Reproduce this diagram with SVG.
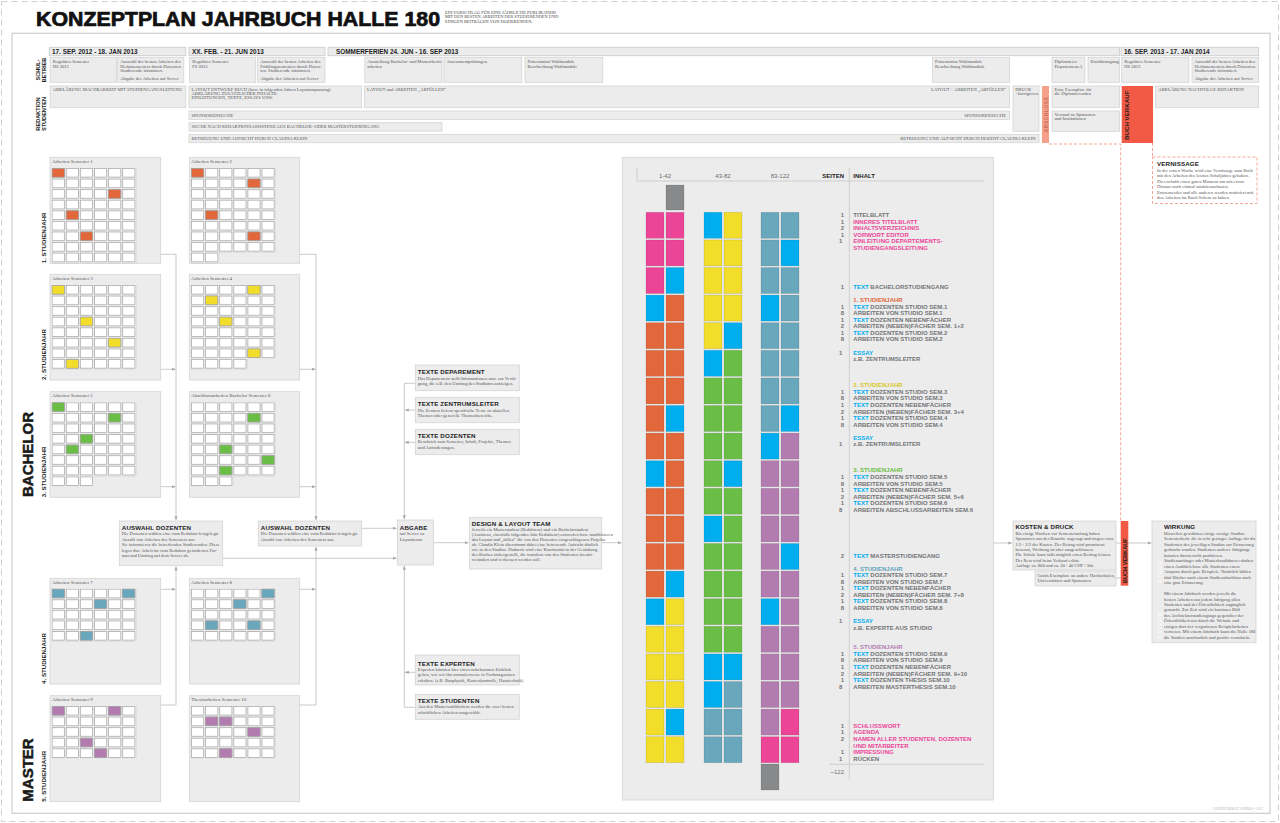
<svg xmlns="http://www.w3.org/2000/svg" width="1280" height="823" viewBox="0 0 1280 823">
<defs>
<style>
.box{fill:#ECECED;stroke:#D4D4D4;stroke-width:0.8}
.bar{fill:#ECECED;stroke:#CACACA;stroke-width:0.8}
.hd{font-family:"Liberation Sans",Arial,sans-serif;font-weight:bold;font-size:6.2px;fill:#1d1d1d;letter-spacing:0.15px}
.dt{font-family:"Liberation Sans",Arial,sans-serif;font-weight:bold;font-size:6.4px;fill:#1d1d1d}
.bd{font-family:"Liberation Serif","Times New Roman",serif;font-size:4.6px;fill:#555}
.st{font-family:"Liberation Serif","Times New Roman",serif;font-size:5px;fill:#555}
.ct{font-family:"Liberation Sans",Arial,sans-serif;font-weight:bold;font-size:6px;fill:#737476}
.nm{font-family:"Liberation Sans",Arial,sans-serif;font-weight:bold;font-size:6px;fill:#737476;text-anchor:end}
.vl{font-family:"Liberation Sans",Arial,sans-serif;font-weight:bold;font-size:6.2px;fill:#1d1d1d}
.big{font-family:"Liberation Sans",Arial,sans-serif;font-weight:bold;font-size:15px;fill:#1a1a1a;stroke:#1a1a1a;stroke-width:0.5}
.cn{fill:none;stroke:#BDBDBD;stroke-width:0.8}
.dash{fill:none;stroke:#F4A595;stroke-width:1;stroke-dasharray:3 2}
.P{fill:#EC4598}.C{fill:#00AEEF}.O{fill:#E2673A}.Y{fill:#F2DD2A}.G{fill:#6BBE45}.T{fill:#68A7BC}.U{fill:#B37CB0}.K{fill:#87898B}
.pc{fill:#EC4598}.cc{fill:#00AEEF}.oc{fill:#E2673A}.yc{fill:#D9C82A}.gc{fill:#6BBE45}.tc{fill:#5FA3B8}.uc{fill:#B37CB0}
.pb rect{stroke:rgba(0,0,0,0.12);stroke-width:0.8}
.cl{stroke:#A3A3A3;stroke-width:0.7}
</style>
<pattern id="cells" width="14.1" height="10.58" patternUnits="userSpaceOnUse"><rect x="0.4" y="0.4" width="12.3" height="8.7" fill="#fff" stroke="#A3A3A3" stroke-width="0.7"/></pattern>
<marker id="ar" viewBox="0 0 6 6" refX="6" refY="3" markerWidth="4" markerHeight="4" orient="auto" markerUnits="userSpaceOnUse"><path d="M0,0.6 L6,3 L0,5.4 z" fill="#A8A8A8"/></marker>
</defs>
<rect width="1280" height="823" fill="#fff"/>
<rect x="1.5" y="1.5" width="1277" height="820" fill="none" stroke="#CFCFCF" stroke-width="1" stroke-dasharray="6 4"/>
<rect x="12" y="33.3" width="1258" height="780" fill="none" stroke="#CDCDCD" stroke-width="1.2"/>

<g id="title">
<text x="36" y="26" font-family="Liberation Sans,Arial,sans-serif" font-weight="bold" font-size="20" fill="#111" stroke="#111" stroke-width="0.7" textLength="404" lengthAdjust="spacingAndGlyphs">KONZEPTPLAN JAHRBUCH HALLE 180</text>
<text class="bd" style="font-size:4.4px;fill:#444"><tspan x="445" y="14.2">EIN VORSCHLAG FÜR EINE JÄHRLICHE PUBLIKATION</tspan><tspan x="445" y="18.4">MIT DEN BESTEN ARBEITEN DER STUDIERENDEN UND</tspan><tspan x="445" y="22.6">EINIGEN BEITRÄGEN VON DOZIERENDEN.</tspan></text>
</g>

<g id="timeline">
<rect class="bar" x="49.4" y="47.3" width="136.4" height="8.4"/>
<text class="dt" x="52" y="53.8">17. SEP. 2012 - 18. JAN  2013</text>
<rect class="bar" x="189" y="47.3" width="136" height="8.4"/>
<text class="dt" x="192" y="53.8">XX. FEB. - 21. JUN  2013</text>
<rect class="bar" x="328" y="47.3" width="791.6" height="8.4"/>
<text class="dt" x="336" y="53.8">SOMMERFERIEN  24. JUN - 16. SEP 2013</text>
<rect class="bar" x="1121" y="47.3" width="137.7" height="8.4"/>
<text class="dt" x="1124" y="53.8">16. SEP. 2013 - 17. JAN  2014</text>

<text class="vl" style="font-size:5.6px" text-anchor="middle" transform="translate(39.8,70) rotate(-90)">SCHUL-</text>
<text class="vl" style="font-size:5.6px" text-anchor="middle" transform="translate(45.8,70) rotate(-90)">BETRIEB</text>
<text class="vl" style="font-size:5.6px" text-anchor="middle" transform="translate(39.8,114) rotate(-90)">REDAKTION</text>
<text class="vl" style="font-size:5.6px" text-anchor="middle" transform="translate(45.8,114) rotate(-90)">STUDENTEN</text>

<rect class="box" x="50.2" y="57.3" width="66.4" height="25"/>
<text class="bd"><tspan x="52.7" y="63">Reguläres Semester</tspan><tspan x="52.7" y="68">HS 2012</tspan></text>
<rect class="box" x="117.8" y="57.3" width="66" height="25"/>
<text class="bd"><tspan x="120.3" y="63">Auswahl der besten Arbeiten des</tspan><tspan x="120.3" y="67.6">Herbstsemesters durch Dozenten.</tspan><tspan x="120.3" y="72.2">Studierende informiert.</tspan><tspan x="120.3" y="80.2">Abgabe der Arbeiten auf Server</tspan></text>
<rect class="box" x="189.7" y="57.3" width="66" height="25"/>
<text class="bd"><tspan x="192.2" y="63">Reguläres Semester</tspan><tspan x="192.2" y="68">FS 2013</tspan></text>
<rect class="box" x="257.7" y="57.3" width="67.3" height="25"/>
<text class="bd"><tspan x="260.2" y="63">Auswahl der besten Arbeiten des</tspan><tspan x="260.2" y="67.6">Frühlingssemesters durch Dozen-</tspan><tspan x="260.2" y="72.2">ten. Studierende informiert.</tspan><tspan x="260.2" y="80.2">Abgabe der Arbeiten auf Server</tspan></text>
<rect class="box" x="364.8" y="57.3" width="77.2" height="25"/>
<text class="bd"><tspan x="367.3" y="63">Ausstellung Bachelor- und Masterthesis-</tspan><tspan x="367.3" y="68">arbeiten</tspan></text>
<rect class="box" x="443.9" y="57.3" width="77.8" height="25"/>
<text class="bd" x="446.4" y="63">Assessmentprüfungen</text>
<rect class="box" x="525" y="57.3" width="77.8" height="25"/>
<text class="bd"><tspan x="527.5" y="63">Präsentation Wahlmodule</tspan><tspan x="527.5" y="68">Beschreibung Wahlmodule</tspan></text>
<rect class="box" x="932.6" y="57.3" width="77" height="25"/>
<text class="bd"><tspan x="935.1" y="63">Präsentation Wahlmodule</tspan><tspan x="935.1" y="68">Beschreibung Wahlmodule</tspan></text>
<rect class="box" x="1052" y="57.3" width="33" height="25"/>
<text class="bd"><tspan x="1054.5" y="63">Diplomfeier</tspan><tspan x="1054.5" y="68">Departement A</tspan></text>
<rect class="box" x="1088" y="57.3" width="31.6" height="25"/>
<text class="bd" x="1090.5" y="63">Einführungstag</text>
<rect class="box" x="1121.7" y="57.3" width="67.3" height="25"/>
<text class="bd"><tspan x="1124.2" y="63">Reguläres Semester</tspan><tspan x="1124.2" y="68">HS 2013</tspan></text>
<rect class="box" x="1192" y="57.3" width="66.7" height="25"/>
<text class="bd"><tspan x="1194.5" y="63">Auswahl der besten Arbeiten des</tspan><tspan x="1194.5" y="67.6">Herbstsemesters durch Dozenten.</tspan><tspan x="1194.5" y="72.2">Studierende informiert.</tspan><tspan x="1194.5" y="80.2">Abgabe der Arbeiten auf Server</tspan></text>

<rect class="box" x="50.2" y="86" width="135.6" height="21.7"/>
<text class="bd" x="52.7" y="90.7">ABKLÄRUNG MACHBARKEIT MIT STUDIENGANGSLEITUNG</text>
<rect class="box" x="189" y="86" width="172.7" height="21.7"/>
<text class="bd"><tspan x="191.5" y="90.7">LAYOUT ENTWURF BUCH (bzw. in folgenden Jahren Layoutanpassung)</tspan><tspan x="191.5" y="95">ABKLÄRUNG ZUSÄTZLICHER INHALTE:</tspan><tspan x="191.5" y="99.3">EINLEITUNGEN, TEXTE, ESSAYS USW.</tspan></text>
<rect class="box" x="364.4" y="86" width="645.2" height="21.7"/>
<text class="bd" x="366.9" y="90.7">LAYOUT und ARBEITEN „ABFÜLLEN“</text>
<text class="bd" x="1006" y="90.7" text-anchor="end">LAYOUT + ARBEITEN „ABFÜLLEN“</text>
<rect class="box" x="189" y="111" width="820.6" height="8.4"/>
<text class="bd" x="191.5" y="116.7">SPONSORENSUCHE</text>
<text class="bd" x="1006" y="116.7" text-anchor="end">SPONSORENSUCHE</text>
<rect class="box" x="189" y="122.7" width="253" height="8.4"/>
<text class="bd" x="191.5" y="128.4">SUCHE NACH REDAKTIONSASSISTENZ AUS BACHELOR- ODER MASTERSTUDIENGANG</text>
<rect class="box" x="189" y="134.3" width="850" height="8.4"/>
<text class="bd" x="191.5" y="140">BETREUUNG UND AUFSICHT DURCH CLAUDIA KLEIN</text>
<text class="bd" x="1035.5" y="140" text-anchor="end">BETREUUNG UND AUFSICHT DURCH DOZENT CLAUDIA KLEIN</text>

<rect class="box" x="1013" y="86" width="26" height="45.3"/>
<text class="bd"><tspan x="1015.2" y="90.7">DRUCK</tspan><tspan x="1015.2" y="95">+korrigieren</tspan></text>
<rect x="1042" y="86" width="7" height="57" fill="#F5A08A"/>
<text class="vl" style="font-size:5px;fill:#C9705A" letter-spacing="0.5" text-anchor="middle" transform="translate(1047.6,114.5) rotate(-90)">ABSCHLUSS</text>
<rect class="box" x="1052" y="86" width="67.6" height="21.7"/>
<text class="bd"><tspan x="1054.5" y="90.7">Erste Exemplare für</tspan><tspan x="1054.5" y="95">die Diplomierenden</tspan></text>
<rect class="box" x="1052" y="111" width="67.6" height="20.3"/>
<text class="bd"><tspan x="1054.5" y="115.7">Versand an Sponsoren</tspan><tspan x="1054.5" y="120">und Institutionen</tspan></text>
<rect x="1121.7" y="86" width="31.3" height="57" fill="#F25A45"/>
<text class="vl" transform="translate(1128.5,140) rotate(-90)">BUCH VERKAUF</text>
<rect class="box" x="1155.7" y="86" width="103" height="21.7"/>
<text class="bd" x="1158.2" y="90.7">ABKLÄRUNG NACHFOLGE REDAKTION</text>
<path class="dash" d="M1049,144 H1120.7 V521"/>
<path class="dash" d="M1152.5,143 V157"/>
</g>

<g id="vernissage">
<rect x="1152.5" y="157" width="104.5" height="46.5" fill="#fff" stroke="#F4A595" stroke-width="1" stroke-dasharray="3 2"/>
<text class="hd" x="1157" y="166">VERNISSAGE</text>
<text class="bd"><tspan x="1157" y="171.5">In der ersten Woche wird eine Vernissage zum Buch</tspan><tspan x="1157" y="177.1">mit den Arbeiten des letzten Schuljahres gehalten.</tspan><tspan x="1157" y="182.6">Dies schafft einen guten Moment um mit etwas</tspan><tspan x="1157" y="188.1">Distanz noch einmal zurückzuschauen.</tspan><tspan x="1157" y="193.6">Erstsemestler und alle anderen werden motiviert mit</tspan><tspan x="1157" y="199.1">den Arbeiten im Buch Schein zu haben.</tspan></text>
</g>

<g id="labels">
<text class="big" transform="translate(33.3,497) rotate(-90)">BACHELOR</text>
<text class="big" transform="translate(33.3,801.7) rotate(-90)">MASTER</text>
<text class="vl" transform="translate(46,263.3) rotate(-90)">1. STUDIENJAHR</text>
<text class="vl" transform="translate(46,380) rotate(-90)">2. STUDIENJAHR</text>
<text class="vl" transform="translate(46,497.3) rotate(-90)">3. STUDIENJAHR</text>
<text class="vl" transform="translate(46,684) rotate(-90)">4. STUDIENJAHR</text>
<text class="vl" transform="translate(46,801.7) rotate(-90)">5. STUDIENJAHR</text>
</g>

<g id="sem1">
<rect class="box" x="50" y="157.3" width="110.7" height="106"/>
<text class="st" x="52" y="162.8">Arbeiten Semester 1</text>
<g transform="translate(51.7,168)"><rect width="84.6" height="95.22" fill="url(#cells)"/>
<rect class="O cl" x="0.4" y="0.4" width="12.3" height="8.7"/><rect class="O cl" x="56.8" y="21.56" width="12.3" height="8.7"/><rect class="O cl" x="14.5" y="42.72" width="12.3" height="8.7"/><rect class="O cl" x="28.6" y="63.88" width="12.3" height="8.7"/></g>
</g>
<g id="sem2">
<rect class="box" x="189.3" y="157.3" width="110.4" height="106"/>
<text class="st" x="191.3" y="162.8">Arbeiten Semester 2</text>
<g transform="translate(191,168)"><rect width="84.6" height="84.64" fill="url(#cells)"/><rect y="84.64" width="28.2" height="10.58" fill="url(#cells)"/>
<rect class="O cl" x="0.4" y="0.4" width="12.3" height="8.7"/><rect class="O cl" x="56.8" y="10.98" width="12.3" height="8.7"/><rect class="O cl" x="14.5" y="42.72" width="12.3" height="8.7"/><rect class="O cl" x="56.8" y="63.88" width="12.3" height="8.7"/></g>
</g>
<g id="sem3">
<rect class="box" x="50" y="274.3" width="110.7" height="105.7"/>
<text class="st" x="52" y="279.8">Arbeiten Semester 3</text>
<g transform="translate(51.7,285)"><rect width="84.6" height="84.64" fill="url(#cells)"/>
<rect class="Y cl" x="0.4" y="0.4" width="12.3" height="8.7"/><rect class="Y cl" x="28.6" y="32.14" width="12.3" height="8.7"/><rect class="Y cl" x="56.8" y="53.3" width="12.3" height="8.7"/><rect class="Y cl" x="14.5" y="74.46" width="12.3" height="8.7"/></g>
</g>
<g id="sem4">
<rect class="box" x="189.3" y="274.3" width="110.4" height="105.7"/>
<text class="st" x="191.3" y="279.8">Arbeiten Semester 4</text>
<g transform="translate(191,285)"><rect width="84.6" height="74.06" fill="url(#cells)"/><rect y="74.06" width="56.4" height="10.58" fill="url(#cells)"/>
<rect class="Y cl" x="56.8" y="0.4" width="12.3" height="8.7"/><rect class="Y cl" x="14.5" y="10.98" width="12.3" height="8.7"/><rect class="Y cl" x="28.6" y="32.14" width="12.3" height="8.7"/><rect class="Y cl" x="56.8" y="63.88" width="12.3" height="8.7"/></g>
</g>
<g id="sem5">
<rect class="box" x="50" y="391.7" width="110.7" height="105.6"/>
<text class="st" x="52" y="397.2">Arbeiten Semester 5</text>
<g transform="translate(51.7,402.3)"><rect width="84.6" height="74.06" fill="url(#cells)"/><rect y="74.06" width="42.3" height="10.58" fill="url(#cells)"/>
<rect class="G cl" x="0.4" y="0.4" width="12.3" height="8.7"/><rect class="G cl" x="56.8" y="10.98" width="12.3" height="8.7"/><rect class="G cl" x="28.6" y="32.14" width="12.3" height="8.7"/><rect class="G cl" x="14.5" y="42.72" width="12.3" height="8.7"/></g>
</g>
<g id="sem6">
<rect class="box" x="189.3" y="391.7" width="110.4" height="105.6"/>
<text class="st" x="191.3" y="397.2">Abschlussarbeiten Bachelor Semester 6</text>
<g transform="translate(191,402.3)"><rect width="84.6" height="74.06" fill="url(#cells)"/><rect y="74.06" width="42.3" height="10.58" fill="url(#cells)"/>
<rect class="G cl" x="56.8" y="10.98" width="12.3" height="8.7"/><rect class="G cl" x="28.6" y="42.72" width="12.3" height="8.7"/><rect class="G cl" x="70.9" y="53.3" width="12.3" height="8.7"/><rect class="G cl" x="28.6" y="63.88" width="12.3" height="8.7"/></g>
</g>
<g id="sem7">
<rect class="box" x="50" y="578.3" width="110.7" height="105.7"/>
<text class="st" x="52" y="583.8">Arbeiten Semester 7</text>
<g transform="translate(51.7,588.7)"><rect width="84.6" height="52.9" fill="url(#cells)"/>
<rect class="T cl" x="0.4" y="0.4" width="12.3" height="8.7"/><rect class="T cl" x="70.9" y="0.4" width="12.3" height="8.7"/><rect class="T cl" x="42.7" y="10.98" width="12.3" height="8.7"/><rect class="T cl" x="28.6" y="42.72" width="12.3" height="8.7"/></g>
</g>
<g id="sem8">
<rect class="box" x="189.3" y="578.3" width="110.4" height="105.7"/>
<text class="st" x="191.3" y="583.8">Arbeiten Semester 8</text>
<g transform="translate(191,588.7)"><rect width="84.6" height="52.9" fill="url(#cells)"/>
<rect class="T cl" x="70.9" y="0.4" width="12.3" height="8.7"/><rect class="T cl" x="42.7" y="10.98" width="12.3" height="8.7"/><rect class="T cl" x="14.5" y="32.14" width="12.3" height="8.7"/><rect class="T cl" x="56.8" y="32.14" width="12.3" height="8.7"/></g>
</g>
<g id="sem9">
<rect class="box" x="50" y="695.7" width="110.7" height="106"/>
<text class="st" x="52" y="701.2">Arbeiten Semester 9</text>
<g transform="translate(51.7,706)"><rect width="84.6" height="52.9" fill="url(#cells)"/>
<rect class="U cl" x="0.4" y="0.4" width="12.3" height="8.7"/><rect class="U cl" x="56.8" y="0.4" width="12.3" height="8.7"/><rect class="U cl" x="28.6" y="32.14" width="12.3" height="8.7"/><rect class="U cl" x="42.7" y="42.72" width="12.3" height="8.7"/></g>
</g>
<g id="sem10">
<rect class="box" x="189.3" y="695.7" width="110.4" height="106"/>
<text class="st" x="191.3" y="701.2">Thesisarbeiten Semester 10</text>
<g transform="translate(191,706)"><rect width="84.6" height="52.9" fill="url(#cells)"/>
<rect class="U cl" x="14.5" y="10.98" width="12.3" height="8.7"/><rect class="U cl" x="28.6" y="10.98" width="12.3" height="8.7"/><rect class="U cl" x="56.8" y="21.56" width="12.3" height="8.7"/><rect class="U cl" x="28.6" y="42.72" width="12.3" height="8.7"/></g>
</g>

<g id="connectors">
<path class="cn" d="M160.7,254.3 H176 V520.2" marker-end="url(#ar)"/>
<path class="cn" d="M160.7,369.3 H175.6" marker-end="url(#ar)"/>
<path class="cn" d="M160.7,486.7 H175.6" marker-end="url(#ar)"/>
<path class="cn" d="M160.7,589.3 H175.6" marker-end="url(#ar)"/>
<path class="cn" d="M160.7,705 H176 V566.5" marker-end="url(#ar)"/>
<path class="cn" d="M299.7,254.3 H316 V520.2" marker-end="url(#ar)"/>
<path class="cn" d="M299.7,369.3 H315.6" marker-end="url(#ar)"/>
<path class="cn" d="M299.7,486.7 H315.6" marker-end="url(#ar)"/>
<path class="cn" d="M299.7,589.3 H315.6" marker-end="url(#ar)"/>
<path class="cn" d="M299.7,705 H316 V546.8" marker-end="url(#ar)"/>
<path class="cn" d="M222.7,558.3 H396.6" marker-end="url(#ar)"/>
<path class="cn" d="M361.7,528.3 H396.6" marker-end="url(#ar)"/>
<path class="cn" d="M415.3,383.3 H404.3 V519.3" marker-end="url(#ar)"/>
<path class="cn" d="M415.3,410 H404.8" marker-end="url(#ar)"/>
<path class="cn" d="M415.3,442.3 H404.8" marker-end="url(#ar)"/>
<path class="cn" d="M415.3,707.3 H404.3 V565.8" marker-end="url(#ar)"/>
<path class="cn" d="M415.3,672.3 H404.8" marker-end="url(#ar)"/>
<path class="cn" d="M433.3,542.7 H468.6" marker-end="url(#ar)"/>
<path class="cn" d="M601.7,542.7 H621.6" marker-end="url(#ar)"/>
<path class="cn" d="M993.3,543 H1012.3" marker-end="url(#ar)"/>
<path class="cn" d="M1116,543 H1120.7"/>
<path class="cn" d="M1116,578 H1120.7"/>
<path class="cn" d="M1128.3,543 H1151.5" marker-end="url(#ar)"/>
</g>

<g id="auswahl1">
<rect class="box" x="119.3" y="521" width="103.4" height="44.7"/>
<text class="hd" x="121.8" y="529.6">AUSWAHL DOZENTEN</text>
<text class="bd"><tspan x="121.8" y="535">Die Dozenten wählen eine vom Redaktor festgelegte</tspan><tspan x="121.8" y="540.5">Anzahl von Arbeiten des Semesters aus.</tspan><tspan x="121.8" y="546">Sie informieren die betreffenden Studierenden. Diese</tspan><tspan x="121.8" y="551.5">legen ihre Arbeit im vom Redaktor geforderten For-</tspan><tspan x="121.8" y="557">mat und Umfang auf dem Server ab.</tspan></text>
</g>
<g id="auswahl2">
<rect class="box" x="258.3" y="521" width="103.4" height="25"/>
<text class="hd" x="260.8" y="529.6">AUSWAHL DOZENTEN</text>
<text class="bd"><tspan x="260.8" y="535">Die Dozenten wählen eine vom Redaktor festgelegte</tspan><tspan x="260.8" y="540.5">Anzahl von Arbeiten des Semesters aus.</tspan></text>
</g>
<g id="abgabe">
<rect class="box" x="397.3" y="520" width="36" height="45"/>
<text class="hd" x="399.8" y="530">ABGABE</text>
<text class="bd"><tspan x="399.8" y="535.2">auf Server zu</tspan><tspan x="399.8" y="540.5">Layoutteam.</tspan></text>
</g>
<g id="texte-departement">
<rect class="box" x="415.3" y="365" width="104" height="25.7"/>
<text class="hd" x="417.8" y="374">TEXTE DEPAREMENT</text>
<text class="bd"><tspan x="417.8" y="380">Das Departement stellt Informationen usw. zur Verfü-</tspan><tspan x="417.8" y="385.4">gung, die z.B. den Umfang des Studiums aufzeigen.</tspan></text>
</g>
<g id="texte-zentrumsleiter">
<rect class="box" x="415.3" y="397.3" width="104" height="25.4"/>
<text class="hd" x="417.8" y="405.6">TEXTE ZENTRUMSLEITER</text>
<text class="bd"><tspan x="417.8" y="411.7">Die Zentren liefern spezifische Texte zu aktuellen</tspan><tspan x="417.8" y="417">Themen oder generelle Themenbereiche.</tspan></text>
</g>
<g id="texte-dozenten">
<rect class="box" x="415.3" y="429.3" width="104" height="25.4"/>
<text class="hd" x="417.8" y="438">TEXTE DOZENTEN</text>
<text class="bd"><tspan x="417.8" y="443.4">Beschrieb zum Semester, Inhalt, Projekte, Themen</tspan><tspan x="417.8" y="449">und Anforderungen.</tspan></text>
</g>
<g id="texte-experten">
<rect class="box" x="415.3" y="655" width="104" height="30"/>
<text class="hd" x="417.8" y="665.6">TEXTE EXPERTEN</text>
<text class="bd"><tspan x="417.8" y="670.7">Experten könnten hier einen unbekannten Einblick</tspan><tspan x="417.8" y="676">geben, wie wir ihn normalerweise in Fachmagazinen</tspan><tspan x="417.8" y="681.7">erhalten. (z.B. Bauphysik, Kostenkontrolle, Haustechnik)</tspan></text>
</g>
<g id="texte-studenten">
<rect class="box" x="415.3" y="694.3" width="104" height="25"/>
<text class="hd" x="417.8" y="703.3">TEXTE STUDENTEN</text>
<text class="bd"><tspan x="417.8" y="708.4">Aus den Masterwahlfächern werden die zwei besten</tspan><tspan x="417.8" y="714">schriftlichen Arbeiten ausgewählt.</tspan></text>
</g>
<g id="design-layout">
<rect class="box" x="469.3" y="517.3" width="132.4" height="51.7"/>
<text class="hd" x="471.8" y="526.3">DESIGN &amp; LAYOUT TEAM</text>
<text class="bd"><tspan x="471.8" y="531.2">Jeweils ein Masterstudent (Redakteur) und ein Bachelorstudent</tspan><tspan x="471.8" y="536.2">(Assistenz, ebenfalls folgendes Jahr Redakteur) entwerfen bzw. modifizieren</tspan><tspan x="471.8" y="541.2">das Layout und „füllen“ die von den Dozenten vorgeschlagenen Projekte</tspan><tspan x="471.8" y="546.2">ab. Claudia Klein übernimmt dabei eine betreuende Aufsicht ähnlich</tspan><tspan x="471.8" y="551.2">wie in den Studios. Dadurch wird eine Kontinuität in der Gestaltung</tspan><tspan x="471.8" y="556.4">des Buches sichergestellt, die trotzdem von den Studenten kreativ</tspan><tspan x="471.8" y="561.4">verändert und verbessert werden soll.</tspan></text>
</g>

<g id="seitenplan">
<rect class="box" x="622.3" y="157.3" width="371" height="642.7"/>
<path d="M637,168 V181 H984" fill="none" stroke="#C8C8C8" stroke-width="0.8"/>
<path d="M849.3,168 V780" fill="none" stroke="#C8C8C8" stroke-width="0.8"/>
<path d="M829,764.3 H984" fill="none" stroke="#C8C8C8" stroke-width="0.8"/>
<g font-family="Liberation Sans,Arial,sans-serif" font-size="6" fill="#6a6a6a" text-anchor="middle">
<text x="665" y="178">1-42</text><text x="723" y="178">43-82</text><text x="780" y="178">83-122</text>
</g>
<text class="ct" x="844" y="178" style="fill:#1d1d1d" text-anchor="end">SEITEN</text>
<text class="ct" x="853.3" y="178" style="fill:#1d1d1d">INHALT</text>
<g class="pb">
<rect class="K" x="666" y="185" width="18" height="25"/>
<rect class="K" x="761" y="764" width="18" height="26"/>
<rect class="P" x="646" y="212.3" width="18" height="26"/><rect class="P" x="666" y="212.3" width="18" height="26"/><rect class="C" x="704" y="212.3" width="18" height="26"/><rect class="Y" x="724" y="212.3" width="18" height="26"/><rect class="T" x="761" y="212.3" width="18" height="26"/><rect class="T" x="781" y="212.3" width="18" height="26"/>
<rect class="P" x="646" y="239.9" width="18" height="26"/><rect class="P" x="666" y="239.9" width="18" height="26"/><rect class="Y" x="704" y="239.9" width="18" height="26"/><rect class="Y" x="724" y="239.9" width="18" height="26"/><rect class="T" x="761" y="239.9" width="18" height="26"/><rect class="C" x="781" y="239.9" width="18" height="26"/>
<rect class="P" x="646" y="267.5" width="18" height="26"/><rect class="C" x="666" y="267.5" width="18" height="26"/><rect class="Y" x="704" y="267.5" width="18" height="26"/><rect class="Y" x="724" y="267.5" width="18" height="26"/><rect class="T" x="761" y="267.5" width="18" height="26"/><rect class="T" x="781" y="267.5" width="18" height="26"/>
<rect class="C" x="646" y="295.1" width="18" height="26"/><rect class="O" x="666" y="295.1" width="18" height="26"/><rect class="Y" x="704" y="295.1" width="18" height="26"/><rect class="Y" x="724" y="295.1" width="18" height="26"/><rect class="C" x="761" y="295.1" width="18" height="26"/><rect class="T" x="781" y="295.1" width="18" height="26"/>
<rect class="O" x="646" y="322.7" width="18" height="26"/><rect class="O" x="666" y="322.7" width="18" height="26"/><rect class="Y" x="704" y="322.7" width="18" height="26"/><rect class="C" x="724" y="322.7" width="18" height="26"/><rect class="T" x="761" y="322.7" width="18" height="26"/><rect class="T" x="781" y="322.7" width="18" height="26"/>
<rect class="O" x="646" y="350.3" width="18" height="26"/><rect class="O" x="666" y="350.3" width="18" height="26"/><rect class="C" x="704" y="350.3" width="18" height="26"/><rect class="G" x="724" y="350.3" width="18" height="26"/><rect class="T" x="761" y="350.3" width="18" height="26"/><rect class="T" x="781" y="350.3" width="18" height="26"/>
<rect class="O" x="646" y="377.9" width="18" height="26"/><rect class="O" x="666" y="377.9" width="18" height="26"/><rect class="G" x="704" y="377.9" width="18" height="26"/><rect class="G" x="724" y="377.9" width="18" height="26"/><rect class="T" x="761" y="377.9" width="18" height="26"/><rect class="T" x="781" y="377.9" width="18" height="26"/>
<rect class="O" x="646" y="405.5" width="18" height="26"/><rect class="C" x="666" y="405.5" width="18" height="26"/><rect class="G" x="704" y="405.5" width="18" height="26"/><rect class="G" x="724" y="405.5" width="18" height="26"/><rect class="T" x="761" y="405.5" width="18" height="26"/><rect class="C" x="781" y="405.5" width="18" height="26"/>
<rect class="O" x="646" y="433.1" width="18" height="26"/><rect class="O" x="666" y="433.1" width="18" height="26"/><rect class="G" x="704" y="433.1" width="18" height="26"/><rect class="G" x="724" y="433.1" width="18" height="26"/><rect class="C" x="761" y="433.1" width="18" height="26"/><rect class="U" x="781" y="433.1" width="18" height="26"/>
<rect class="C" x="646" y="460.7" width="18" height="26"/><rect class="O" x="666" y="460.7" width="18" height="26"/><rect class="G" x="704" y="460.7" width="18" height="26"/><rect class="C" x="724" y="460.7" width="18" height="26"/><rect class="U" x="761" y="460.7" width="18" height="26"/><rect class="U" x="781" y="460.7" width="18" height="26"/>
<rect class="O" x="646" y="488.3" width="18" height="26"/><rect class="O" x="666" y="488.3" width="18" height="26"/><rect class="G" x="704" y="488.3" width="18" height="26"/><rect class="G" x="724" y="488.3" width="18" height="26"/><rect class="U" x="761" y="488.3" width="18" height="26"/><rect class="U" x="781" y="488.3" width="18" height="26"/>
<rect class="O" x="646" y="515.9" width="18" height="26"/><rect class="O" x="666" y="515.9" width="18" height="26"/><rect class="C" x="704" y="515.9" width="18" height="26"/><rect class="G" x="724" y="515.9" width="18" height="26"/><rect class="U" x="761" y="515.9" width="18" height="26"/><rect class="U" x="781" y="515.9" width="18" height="26"/>
<rect class="O" x="646" y="543.5" width="18" height="26"/><rect class="O" x="666" y="543.5" width="18" height="26"/><rect class="G" x="704" y="543.5" width="18" height="26"/><rect class="G" x="724" y="543.5" width="18" height="26"/><rect class="U" x="761" y="543.5" width="18" height="26"/><rect class="C" x="781" y="543.5" width="18" height="26"/>
<rect class="O" x="646" y="571.1" width="18" height="26"/><rect class="C" x="666" y="571.1" width="18" height="26"/><rect class="G" x="704" y="571.1" width="18" height="26"/><rect class="G" x="724" y="571.1" width="18" height="26"/><rect class="U" x="761" y="571.1" width="18" height="26"/><rect class="U" x="781" y="571.1" width="18" height="26"/>
<rect class="C" x="646" y="598.7" width="18" height="26"/><rect class="Y" x="666" y="598.7" width="18" height="26"/><rect class="G" x="704" y="598.7" width="18" height="26"/><rect class="G" x="724" y="598.7" width="18" height="26"/><rect class="C" x="761" y="598.7" width="18" height="26"/><rect class="U" x="781" y="598.7" width="18" height="26"/>
<rect class="Y" x="646" y="626.3" width="18" height="26"/><rect class="Y" x="666" y="626.3" width="18" height="26"/><rect class="G" x="704" y="626.3" width="18" height="26"/><rect class="G" x="724" y="626.3" width="18" height="26"/><rect class="U" x="761" y="626.3" width="18" height="26"/><rect class="U" x="781" y="626.3" width="18" height="26"/>
<rect class="Y" x="646" y="653.9" width="18" height="26"/><rect class="Y" x="666" y="653.9" width="18" height="26"/><rect class="C" x="704" y="653.9" width="18" height="26"/><rect class="C" x="724" y="653.9" width="18" height="26"/><rect class="U" x="761" y="653.9" width="18" height="26"/><rect class="U" x="781" y="653.9" width="18" height="26"/>
<rect class="Y" x="646" y="681.5" width="18" height="26"/><rect class="Y" x="666" y="681.5" width="18" height="26"/><rect class="C" x="704" y="681.5" width="18" height="26"/><rect class="T" x="724" y="681.5" width="18" height="26"/><rect class="U" x="761" y="681.5" width="18" height="26"/><rect class="U" x="781" y="681.5" width="18" height="26"/>
<rect class="Y" x="646" y="709.1" width="18" height="26"/><rect class="C" x="666" y="709.1" width="18" height="26"/><rect class="T" x="704" y="709.1" width="18" height="26"/><rect class="T" x="724" y="709.1" width="18" height="26"/><rect class="U" x="761" y="709.1" width="18" height="26"/><rect class="P" x="781" y="709.1" width="18" height="26"/>
<rect class="Y" x="646" y="736.7" width="18" height="26"/><rect class="Y" x="666" y="736.7" width="18" height="26"/><rect class="T" x="704" y="736.7" width="18" height="26"/><rect class="T" x="724" y="736.7" width="18" height="26"/><rect class="P" x="761" y="736.7" width="18" height="26"/><rect class="P" x="781" y="736.7" width="18" height="26"/>
</g>
<text class="nm">
<tspan x="844" y="217.1">1</tspan><tspan x="844" y="223.8">1</tspan><tspan x="844" y="230.4">2</tspan><tspan x="844" y="236.8">1</tspan><tspan x="844" y="243.4">1</tspan>
<tspan x="844" y="289.4">1</tspan><tspan x="844" y="308.8">1</tspan><tspan x="844" y="315.4">8</tspan><tspan x="844" y="321.8">1</tspan><tspan x="844" y="328.4">2</tspan><tspan x="844" y="335.1">1</tspan><tspan x="844" y="341.4">8</tspan><tspan x="844" y="354.8">1</tspan>
<tspan x="844" y="394.1">1</tspan><tspan x="844" y="400.4">8</tspan><tspan x="844" y="407.1">1</tspan><tspan x="844" y="413.8">2</tspan><tspan x="844" y="420.1">1</tspan><tspan x="844" y="426.8">8</tspan><tspan x="844" y="446.4">1</tspan>
<tspan x="844" y="479.1">1</tspan><tspan x="844" y="485.6">8</tspan><tspan x="844" y="492.1">1</tspan><tspan x="844" y="498.8">2</tspan><tspan x="844" y="505.4">1</tspan><tspan x="844" y="512.1">8</tspan>
<tspan x="844" y="557.8">2</tspan><tspan x="844" y="577.4">1</tspan><tspan x="844" y="583.8">8</tspan><tspan x="844" y="590.4">1</tspan><tspan x="844" y="597.1">2</tspan><tspan x="844" y="603.4">1</tspan><tspan x="844" y="610.1">8</tspan><tspan x="844" y="623.1">1</tspan>
<tspan x="844" y="656.1">1</tspan><tspan x="844" y="662.4">8</tspan><tspan x="844" y="669.1">1</tspan><tspan x="844" y="675.8">2</tspan><tspan x="844" y="682.1">1</tspan><tspan x="844" y="688.8">8</tspan>
<tspan x="844" y="728.1">1</tspan><tspan x="844" y="734.4">1</tspan><tspan x="844" y="741.1">2</tspan><tspan x="844" y="754.1">1</tspan><tspan x="844" y="760.8">1</tspan>
<tspan x="844" y="774.1" font-weight="normal">~122</tspan>
</text>
<text class="ct">
<tspan x="853.3" y="217.1">TITELBLATT</tspan>
<tspan x="853.3" y="223.8" class="pc">INNERES TITELBLATT</tspan>
<tspan x="853.3" y="230.4" class="pc">INHALTSVERZEICHNIS</tspan>
<tspan x="853.3" y="236.8" class="pc">VORWORT EDITOR</tspan>
<tspan x="853.3" y="243.4" class="pc">EINLEITUNG DEPARTEMENTS-</tspan>
<tspan x="853.3" y="249.8" class="pc">STUDIENGANGSLEITUNG</tspan>
<tspan x="853.3" y="289.4" class="cc">TEXT</tspan><tspan> BACHELORSTUDIENGANG</tspan>
<tspan x="853.3" y="302.1" class="oc">1. STUDIENJAHR</tspan>
<tspan x="853.3" y="308.8" class="cc">TEXT</tspan><tspan> DOZENTEN STUDIO SEM.1</tspan>
<tspan x="853.3" y="315.4">ARBEITEN VON STUDIO SEM.1</tspan>
<tspan x="853.3" y="321.8" class="cc">TEXT</tspan><tspan> DOZENTEN NEBENFÄCHER</tspan>
<tspan x="853.3" y="328.4">ARBEITEN (NEBEN)FÄCHER SEM. 1+2</tspan>
<tspan x="853.3" y="335.1" class="cc">TEXT</tspan><tspan> DOZENTEN STUDIO SEM.2</tspan>
<tspan x="853.3" y="341.4">ARBEITEN VON STUDIO SEM.2</tspan>
<tspan x="853.3" y="354.8" class="cc">ESSAY</tspan>
<tspan x="853.3" y="361.1">z.B. ZENTRUMSLEITER</tspan>
<tspan x="853.3" y="387.1" class="yc">2. STUDIENJAHR</tspan>
<tspan x="853.3" y="394.1" class="cc">TEXT</tspan><tspan> DOZENTEN STUDIO SEM.3</tspan>
<tspan x="853.3" y="400.4">ARBEITEN VON STUDIO SEM.3</tspan>
<tspan x="853.3" y="407.1" class="cc">TEXT</tspan><tspan> DOZENTEN NEBENFÄCHER</tspan>
<tspan x="853.3" y="413.8">ARBEITEN (NEBEN)FÄCHER SEM. 3+4</tspan>
<tspan x="853.3" y="420.1" class="cc">TEXT</tspan><tspan> DOZENTEN STUDIO SEM.4</tspan>
<tspan x="853.3" y="426.8">ARBEITEN VON STUDIO SEM.4</tspan>
<tspan x="853.3" y="439.8" class="cc">ESSAY</tspan>
<tspan x="853.3" y="446.4">z.B. ZENTRUMSLEITER</tspan>
<tspan x="853.3" y="472.4" class="gc">3. STUDIENJAHR</tspan>
<tspan x="853.3" y="479.1" class="cc">TEXT</tspan><tspan> DOZENTEN STUDIO SEM.5</tspan>
<tspan x="853.3" y="485.6">ARBEITEN VON STUDIO SEM.5</tspan>
<tspan x="853.3" y="492.1" class="cc">TEXT</tspan><tspan> DOZENTEN NEBENFÄCHER</tspan>
<tspan x="853.3" y="498.8">ARBEITEN (NEBEN)FÄCHER SEM. 5+6</tspan>
<tspan x="853.3" y="505.4" class="cc">TEXT</tspan><tspan> DOZENTEN STUDIO SEM.6</tspan>
<tspan x="853.3" y="512.1">ARBEITEN ABSCHLUSSARBEITEN SEM.6</tspan>
<tspan x="853.3" y="557.8" class="cc">TEXT</tspan><tspan> MASTERSTUDIENGANG</tspan>
<tspan x="853.3" y="570.8" class="tc">4. STUDIENJAHR</tspan>
<tspan x="853.3" y="577.4" class="cc">TEXT</tspan><tspan> DOZENTEN STUDIO SEM.7</tspan>
<tspan x="853.3" y="583.8">ARBEITEN VON STUDIO SEM.7</tspan>
<tspan x="853.3" y="590.4" class="cc">TEXT</tspan><tspan> DOZENTEN NEBENFÄCHER</tspan>
<tspan x="853.3" y="597.1">ARBEITEN (NEBEN)FÄCHER SEM. 7+8</tspan>
<tspan x="853.3" y="603.4" class="cc">TEXT</tspan><tspan> DOZENTEN STUDIO SEM.8</tspan>
<tspan x="853.3" y="610.1">ARBEITEN VON STUDIO SEM.8</tspan>
<tspan x="853.3" y="623.1" class="cc">ESSAY</tspan>
<tspan x="853.3" y="629.8">z.B. EXPERTE AUS STUDIO</tspan>
<tspan x="853.3" y="649.4" class="uc">5. STUDIENJAHR</tspan>
<tspan x="853.3" y="656.1" class="cc">TEXT</tspan><tspan> DOZENTEN STUDIO SEM.9</tspan>
<tspan x="853.3" y="662.4">ARBEITEN VON STUDIO SEM.9</tspan>
<tspan x="853.3" y="669.1" class="cc">TEXT</tspan><tspan> DOZENTEN NEBENFÄCHER</tspan>
<tspan x="853.3" y="675.8">ARBEITEN (NEBEN)FÄCHER SEM. 9+10</tspan>
<tspan x="853.3" y="682.1" class="cc">TEXT</tspan><tspan> DOZENTEN THESIS SEM.10</tspan>
<tspan x="853.3" y="688.8">ARBEITEN MASTERTHESIS SEM.10</tspan>
<tspan x="853.3" y="728.1" class="pc">SCHLUSSWORT</tspan>
<tspan x="853.3" y="734.4" class="pc">AGENDA</tspan>
<tspan x="853.3" y="741.1" class="pc">NAMEN ALLER STUDENTEN, DOZENTEN</tspan>
<tspan x="853.3" y="747.8" class="pc">UND MITARBEITER</tspan>
<tspan x="853.3" y="754.1" class="pc">IMPRESSUNG</tspan>
<tspan x="853.3" y="760.8">RÜCKEN</tspan>
</text>
</g>

<g id="kosten-druck">
<rect class="box" x="1013" y="521" width="103" height="49"/>
<text class="hd" x="1015.5" y="529.3">KOSTEN &amp; DRUCK</text>
<text class="bd"><tspan x="1015.5" y="534.8">Bis einige Wochen vor Semesteranfang haben</tspan><tspan x="1015.5" y="540.2">Sponsoren aus der Branche zugesagt und tragen etwa</tspan><tspan x="1015.5" y="545.6">1/2 - 2/3 der Kosten. Der Betrag wird prominent</tspan><tspan x="1015.5" y="551">benennt, Werbung ist aber ausgeschlossen.</tspan><tspan x="1015.5" y="556.4">Die Schule kann falls möglich einen Beitrag leisten.</tspan><tspan x="1015.5" y="561.8">Der Rest wird beim Verkauf erlöst.</tspan><tspan x="1015.5" y="567.2">Auflage ca. 800 und ca. 20 - 40 CHF / Stk.</tspan></text>
</g>
<g id="gratis">
<rect class="box" x="1035" y="571" width="81" height="15"/>
<text class="bd"><tspan x="1037.5" y="577.2">Gratis Exemplare an andere Hochschulen,</tspan><tspan x="1037.5" y="582.3">Universitäten und Sponsoren.</tspan></text>
</g>
<g id="buch-verkauf">
<rect x="1120.7" y="521" width="7.6" height="64.7" fill="#F25A45"/>
<text class="vl" style="font-size:5.6px" transform="translate(1126.8,583) rotate(-90)">BUCH VERKAUF</text>
</g>
<g id="wirkung">
<rect class="box" x="1152" y="521" width="104" height="121.7"/>
<text class="vl" style="font-size:5px;fill:#F8F8F8" letter-spacing="1.2" text-anchor="middle" transform="translate(1161.5,573) rotate(-90)">INTERN</text>
<text class="vl" style="font-size:5px;fill:#F8F8F8" letter-spacing="1.2" text-anchor="middle" transform="translate(1161.5,625) rotate(-90)">EXTERN</text>
<text class="hd" x="1164" y="529.3">WIRKUNG</text>
<text class="bd"><tspan x="1164" y="534.8">Bisweilen gewährten einige wenige Studios</tspan><tspan x="1164" y="540.3">Semesterhefte die in sehr geringer Auflage für die</tspan><tspan x="1164" y="545.7">Studenten des jeweiligen Studios zur Erinnerung</tspan><tspan x="1164" y="551.2">gedruckt wurden. Studenten anderer Jahrgänge</tspan><tspan x="1164" y="556.7">konnten davon nicht profitieren.</tspan><tspan x="1164" y="562.2">Studienanfänger oder Masterkandidaten erhalten</tspan><tspan x="1164" y="567.6">einen Ausblick bzw. alle Studenten einen</tspan><tspan x="1164" y="573.1">Ansporn durch gute Beispiele. Natürlich bilden</tspan><tspan x="1164" y="578.6">fünf Bücher nach einem Studienabschluss auch</tspan><tspan x="1164" y="584.1">eine gute Erinnerung.</tspan><tspan x="1164" y="595">Mit einem Jahrbuch werden jeweils die</tspan><tspan x="1164" y="600.5">besten Arbeiten aus jedem Jahrgang allen</tspan><tspan x="1164" y="605.9">Studenten und der Öffentlichkeit zugänglich</tspan><tspan x="1164" y="611.4">gemacht. Zur Zeit wird ein konfuses Bild</tspan><tspan x="1164" y="616.9">des Architekturstudiengangs gegenüber der</tspan><tspan x="1164" y="622.3">Öffentlichkeit nur durch die Website und</tspan><tspan x="1164" y="627.8">einigen dort tief vergrabenen Beispielarbeiten</tspan><tspan x="1164" y="633.3">vertreten. Mit einem Jahrbuch kann die Halle 180</tspan><tspan x="1164" y="638.7">die Studien anschaulich und positiv vermitteln.</tspan></text>
</g>
<text class="bd" x="1263" y="810" style="font-size:3.4px;fill:#B5B5B5" text-anchor="end">PAPIERFORMAT 1189X841 • 2012</text>
</svg>
